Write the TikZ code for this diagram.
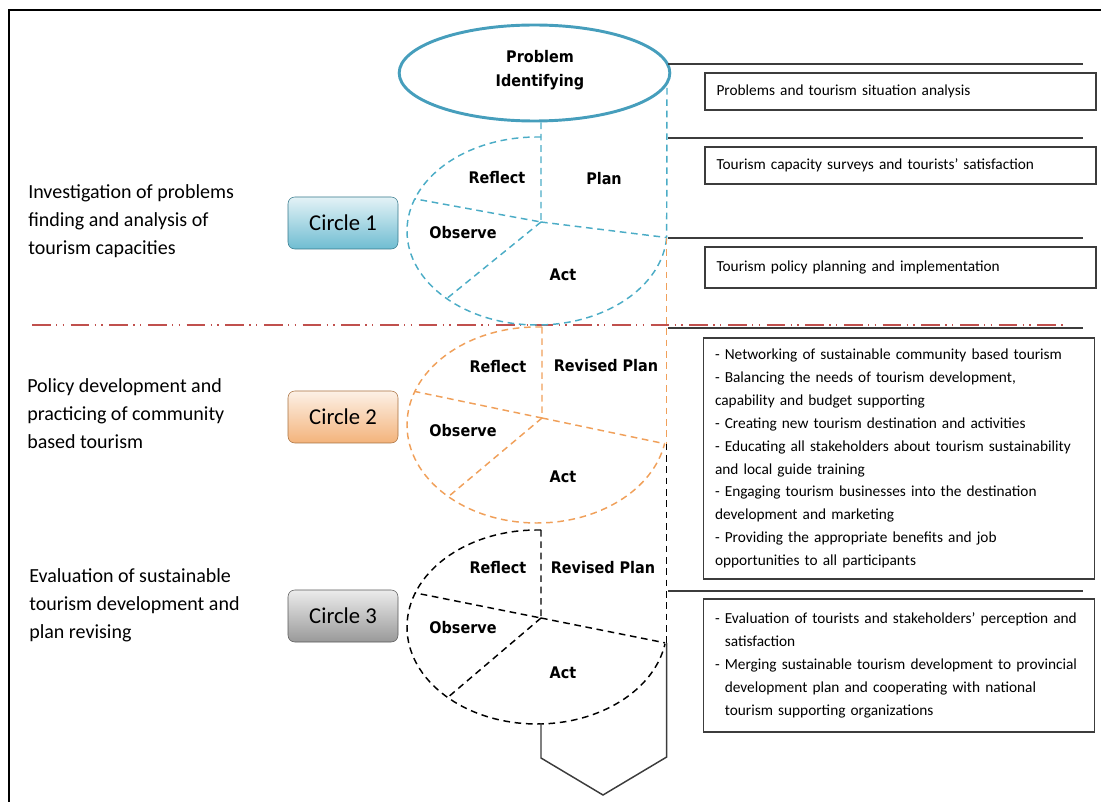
\documentclass[tikz,border=0pt]{standalone}
\usepackage{fontspec}
\setmainfont{Carlito}
\newfontfamily\lblfont{DejaVu Sans Condensed}
\usetikzlibrary{shapes.geometric}

\definecolor{cycblue}{RGB}{75,172,198}
\definecolor{piblue}{RGB}{70,158,188}
\definecolor{cycorange}{RGB}{240,160,90}
\definecolor{sepred}{RGB}{192,80,77}
\definecolor{boxgray}{RGB}{60,60,60}

\tikzset{
  cyclabel/.style={font=\lblfont\bfseries\fontsize{12}{18}\selectfont, inner sep=0pt, align=center},
  sidetext/.style={anchor=west, align=left, inner sep=0pt, font=\fontsize{15}{21}\selectfont},
  infobox/.style={draw=boxgray, line width=1.1pt, align=left, text width=276pt, inner xsep=8.5pt, inner ysep=0pt, font=\fontsize{11.5}{17.2}\selectfont},
  circlebox/.style={draw=#1!70!black, rounded corners=5pt, minimum width=82.5pt, minimum height=39pt, font=\fontsize{17}{19}\selectfont, top color=#1!15, bottom color=#1!80},
  cycline/.style={dash pattern=on 5pt off 3.5pt, line width=1.1pt},
  sepline/.style={boxgray, line width=1pt},
}

\begin{document}
\begin{tikzpicture}[x=0.75pt,y=0.75pt,yscale=-1]
\useasboundingbox (0,0) rectangle (1101,802);

%Frame
\draw [line width=1.5pt] (1101,10) -- (9,10) -- (9,802);

%Shape: Ellipse
\node [ellipse, draw=piblue, line width=2.2pt, minimum width=203pt, minimum height=72pt] (pi) at (534.5,73) {};
\node [cyclabel] (pitext) at (540,70) {Problem\\Identifying};

%Separator lines right
\foreach \y in {64,138,238,328,591}
  \draw [sepline] (668,\y) -- (1083,\y);

%Red dash dot line
\draw [sepred, line width=1.6pt, dash pattern=on 14pt off 4pt on 1pt off 4pt on 1pt off 5pt] (32,325) -- (1067,325);

%Circle 1
\coordinate (e1) at (537,231);
\coordinate (h1) at (541,222);
\coordinate (r1) at ([shift={(4:130 and 94)}]e1);
\draw [cycline, cycblue] (541,137) -- (537,137) arc [start angle=270, end angle=4, x radius=130, y radius=94];
\draw [cycline, cycblue] (h1 |- pi.south) -- (h1) -- ([shift={(200:130 and 94)}]e1);
\draw [cycline, cycblue] (h1) -- ([shift={(134:130 and 94)}]e1);
\draw [cycline, cycblue] (h1) -- (r1);

%Circle 2
\coordinate (e2) at (537,425);
\coordinate (h2) at (542,418);
\coordinate (r2) at ([shift={(11:130 and 98)}]e2);
\draw [cycline, cycorange] (542,327) -- (537,327) arc [start angle=270, end angle=11, x radius=130, y radius=98];
\draw [cycline, cycorange] (542,327) -- (h2) -- ([shift={(200:130 and 98)}]e2);
\draw [cycline, cycorange] (h2) -- ([shift={(133:130 and 98)}]e2);
\draw [cycline, cycorange] (h2) -- (r2);

%Circle 3
\coordinate (e3) at (537,626);
\coordinate (h3) at (541,618);
\coordinate (r3) at ([shift={(10:130 and 97)}]e3);
\draw [cycline] (541,530) -- (537,530) arc [start angle=270, end angle=10, x radius=130, y radius=97];
\draw [cycline] (541,530) -- (h3) -- ([shift={(200:130 and 97)}]e3);
\draw [cycline] (h3) -- ([shift={(133:130 and 97)}]e3);
\draw [cycline] (h3) -- (r3);

%Right vertical line
\draw [cycline, cycblue] (667,88) -- (r1);
\draw [cycline, cycorange] (r1) -- (r1 |- r2);
\draw [cycline] (r1 |- r2) -- (r1 |- r3);

%Shape: bottom arrow
\draw [line width=1.1pt, boxgray] (541,723) -- (541,758) -- (603,795) -- (r1 |- 0,757) -- (r1 |- r3);

% Text Node
\node [cyclabel] (refl1) at (497,178) {Reflect};
\node [cyclabel] (plan1) at (604,179) {Plan};
\node [cyclabel] (obs1) at (463,233) {Observe};
\node [cyclabel] (act1) at (563,275) {Act};
\node [cyclabel] (refl2) at (498,367) {Reflect};
\node [cyclabel] (plan2) at (606,366) {Revised Plan};
\node [cyclabel] (obs2) at (463,431) {Observe};
\node [cyclabel] (act2) at (563,477) {Act};
\node [cyclabel] (refl3) at (498,568) {Reflect};
\node [cyclabel] (plan3) at (603,568) {Revised Plan};
\node [cyclabel] (obs3) at (463,628) {Observe};
\node [cyclabel] (act3) at (563,673) {Act};

%Circle boxes
\node [circlebox=cycblue] (cb1) at (343,223) {Circle 1};
\node [circlebox=cycorange] (cb2) at (343,417) {Circle 2};
\node [circlebox=gray] (cb3) at (343,616) {Circle 3};

%Left texts
\node [sidetext] (st1) at (28,221) {Investigation of problems\\finding and analysis of\\tourism capacities};
\node [sidetext] (st2) at (27,414) {Policy development and\\practicing of community\\based tourism};
\node [sidetext] (st3) at (29,605) {Evaluation of sustainable\\tourism development and\\plan revising};

%Right boxes
\node [infobox, minimum height=27.75pt] (b1) at (900.5,91.5) {Problems and tourism situation analysis};
\node [infobox, minimum height=27.75pt] (b2) at (900.5,165.5) {Tourism capacity surveys and tourists' satisfaction};
\node [infobox, minimum height=30.75pt] (b3) at (900.5,267.5) {Tourism policy planning and implementation};
\node [infobox, minimum height=180.75pt] (b4) at (899,458.5) {- Networking of sustainable community based tourism\\
- Balancing the needs of tourism development,\\
capability and budget supporting\\
- Creating new tourism destination and activities\\
- Educating all stakeholders about tourism sustainability\\
and local guide training\\
- Engaging tourism businesses into the destination\\
development and marketing\\
- Providing the appropriate benefits and job\\
opportunities to all participants};
\node [infobox, minimum height=99.75pt] (b5) at (899,665.5) {- Evaluation of tourists and stakeholders' perception and\\
\phantom{- }satisfaction\\
- Merging sustainable tourism development to provincial\\
\phantom{- }development plan and cooperating with national\\
\phantom{- }tourism supporting organizations};

\end{tikzpicture}
\end{document}
